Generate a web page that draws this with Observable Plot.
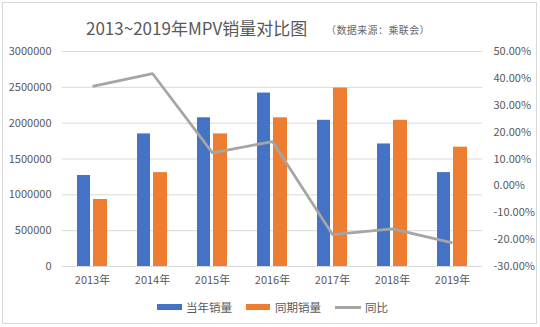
<!DOCTYPE html>
<html>
<head>
<meta charset="utf-8">
<script src="https://cdn.jsdelivr.net/npm/d3@7"></script>
<script src="https://cdn.jsdelivr.net/npm/@observablehq/plot@0.6"></script>
<style>
  html, body { margin: 0; padding: 0; background: #fff; }
  #wrap { position: relative; width: 540px; height: 327px; overflow: hidden; font-family: "Noto Sans CJK SC", "Noto Sans", sans-serif; color: #595959; }
  #frame { position: absolute; left: 2px; top: 2px; width: 535px; height: 322px; border: 1px solid #D9D9D9; box-sizing: border-box; }
  #title { position: absolute; left: 86px; top: 16px; font-size: 17px; line-height: 24px; white-space: nowrap; }
  #sub { position: absolute; left: 326px; top: 23px; font-size: 10px; line-height: 14px; letter-spacing: 0.4px; white-space: nowrap; color: #666; }
  #chart { position: absolute; left: 0; top: 0; }
  .lg { position: absolute; font-size: 11.5px; line-height: 16px; top: 299px; white-space: nowrap; }
  .sw { position: absolute; }
</style>
</head>
<body>
<div id="wrap">
  <div id="frame"></div>
  <div id="chart"></div>
  <div id="title">2013~2019年MPV销量对比图</div>
  <div id="sub">（数据来源：乘联会）</div>
  <div class="sw" style="left:157px;top:304px;width:25px;height:6px;background:#4472C4"></div>
  <div class="lg" style="left:186px">当年销量</div>
  <div class="sw" style="left:246px;top:304px;width:24px;height:6px;background:#ED7D31"></div>
  <div class="lg" style="left:275px">同期销量</div>
  <div class="sw" style="left:335px;top:306px;width:26px;height:3px;background:#A5A5A5"></div>
  <div class="lg" style="left:365px">同比</div>
</div>
<script>
const years = ["2013年", "2014年", "2015年", "2016年", "2017年", "2018年", "2019年"];
const current = [1270000, 1850000, 2075000, 2420000, 2040000, 1710000, 1310000];
const previous = [935000, 1310000, 1850000, 2075000, 2490000, 2040000, 1665000];
const yoy = [37.0, 41.8, 12.3, 16.5, -18.1, -16.0, -21.2];
const leftTicks = [0, 500000, 1000000, 1500000, 2000000, 2500000, 3000000];
const rightTicks = [-30, -20, -10, 0, 10, 20, 30, 40, 50];

const yMax = 3000000, pMin = -30, pMax = 50;
const toLeft = p => (p - pMin) / (pMax - pMin) * yMax;

const data = years.map((y, i) => ({year: y, cur: current[i], prev: previous[i], yoy: yoy[i]}));
const font = '"Noto Sans CJK SC", "Noto Sans", sans-serif';

const chart = Plot.plot({
  width: 540,
  height: 327,
  marginTop: 51,
  marginBottom: 61,
  marginLeft: 62,
  marginRight: 58,
  style: {fontFamily: font, fontSize: "11px", color: "#595959", background: "transparent", overflow: "visible"},
  x: {type: "band", domain: years, padding: 0, tickSize: 0, tickPadding: 10, label: null},
  y: {domain: [0, yMax], ticks: leftTicks, tickFormat: d3.format("d"), tickSize: 0, tickPadding: 11, label: null},
  marks: [
    Plot.ruleY(leftTicks, {stroke: "#D9D9D9", strokeWidth: 1}),
    Plot.barY(data, {x: "year", y: "cur", fill: "#4472C4", insetLeft: 15, insetRight: 32}),
    Plot.barY(data, {x: "year", y: "prev", fill: "#ED7D31", insetLeft: 31, insetRight: 15}),
    Plot.line(data, {x: "year", y: d => toLeft(d.yoy), stroke: "#A5A5A5", strokeWidth: 2.75, strokeLinejoin: "miter", strokeLinecap: "butt"}),
    Plot.text(rightTicks, {y: d => toLeft(d), text: d => d.toFixed(2) + "%", frameAnchor: "right", textAnchor: "start", dx: 11, fill: "#595959", fontSize: 11})
  ]
});
document.getElementById("chart").appendChild(chart);
</script>
</body>
</html>
